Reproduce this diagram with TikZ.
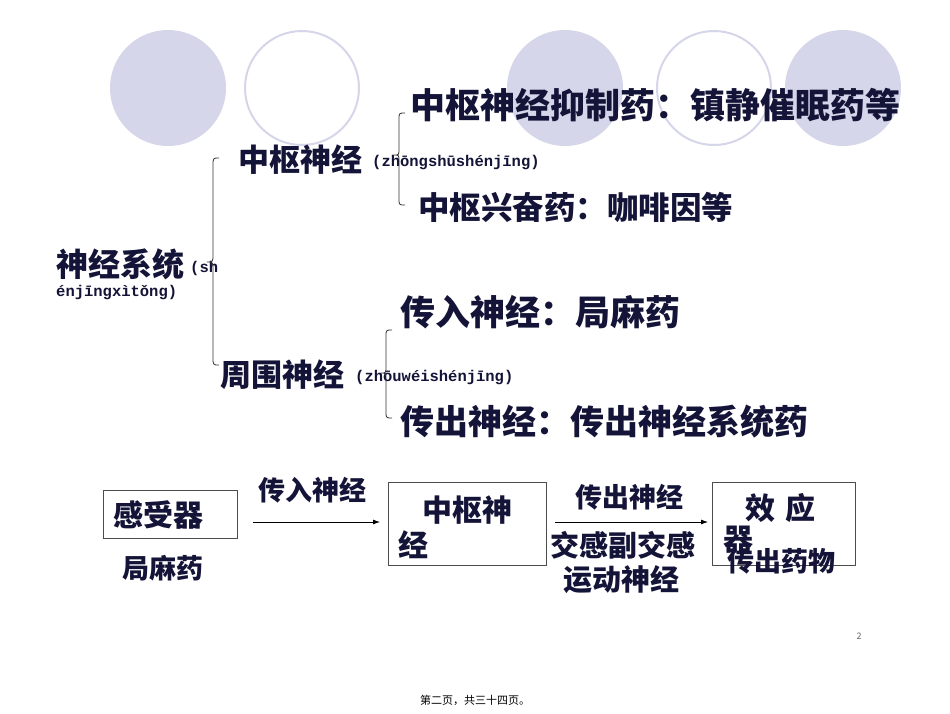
\documentclass[tikz,border=0pt]{standalone}
\usepackage{fontspec}
\setmainfont{Noto Sans CJK SC}
\newfontfamily\py{Liberation Mono}
\usetikzlibrary{arrows.meta}
\definecolor{txt}{HTML}{141438}
\definecolor{lav}{HTML}{D6D6EA}
\tikzset{
  t/.style={anchor=west,inner sep=0pt,text=txt},
  pin/.style={anchor=west,inner sep=0pt,text=txt,font=\py\bfseries\fontsize{15.5}{17}\selectfont},
  box/.style={draw=black!70,line width=0.8pt},
  arr/.style={-{Latex[length=7pt,width=5pt]},line width=0.8pt},
  br/.style={line width=0.8pt,black!80}
}
\begin{document}
\begin{tikzpicture}[x=1pt,y=-1pt]
\useasboundingbox (0,0) rectangle (950,713);
\fill[white] (0,0) rectangle (950,713);
\fill[lav] (168,88) circle (58);
\draw[lav,line width=2pt] (302,88) circle (57);
\fill[lav] (565,88) circle (58);
\draw[lav,line width=2pt] (714,88) circle (57);
\fill[lav] (843,88) circle (58);

\node[t,font=\bfseries\fontsize{35}{37}\selectfont] (a1) at (410,105) {中枢神经抑制药：镇静催眠药等};
\node[t,font=\bfseries\fontsize{31}{34}\selectfont] (c) at (238,160) {中枢神经};
\node[pin] (cp) at (372,163) {(zhōngshūshénjīng)};
\node[t,font=\bfseries\fontsize{31.5}{34}\selectfont] (a2) at (418,207) {中枢兴奋药：咖啡因等};
\node[t,font=\bfseries\fontsize{32}{34}\selectfont] (s) at (56,264) {神经系统};
\node[pin] (sp1) at (190,268) {(sh};
\node[pin] (sp2) at (56,293) {énjīngxìtǒng)};
\node[t,font=\bfseries\fontsize{35}{37}\selectfont] (b1) at (400,312) {传入神经：局麻药};
\node[t,font=\bfseries\fontsize{31}{34}\selectfont] (p) at (220,375) {周围神经};
\node[pin] (pp) at (355,378) {(zhōuwéishénjīng)};
\node[t,font=\bfseries\fontsize{34}{36}\selectfont] (b2) at (400,422) {传出神经：传出神经系统药};

% braces
\draw[br] (219,158) .. controls (213,158) .. (213,166) -- (213,254) .. controls (213,262) .. (207,262) .. controls (213,262) .. (213,270) -- (213,357) .. controls (213,365) .. (219,365);
\draw[br] (405,113) .. controls (399,113) .. (399,120) -- (399,148) .. controls (399,155) .. (394,155) .. controls (399,155) .. (399,162) -- (399,198) .. controls (399,205) .. (405,205);
\draw[br] (392,330) .. controls (386,330) .. (386,337) -- (386,366) .. controls (386,373) .. (381,373) .. controls (386,373) .. (386,380) -- (386,411) .. controls (386,418) .. (392,418);

% bottom flow
\node[box,minimum width=134pt,minimum height=48pt,inner sep=0pt] (k) at (170,514) {};
\node[t,font=\bfseries\fontsize{30}{32}\selectfont] (kt) at (113,515) {感受器};
\node[t,font=\bfseries\fontsize{27}{30}\selectfont] (kd) at (122,568) {局麻药};
\node[box,minimum width=158pt,minimum height=83pt,inner sep=0pt] (z) at (467,523.5) {};
\node[t,font=\bfseries\fontsize{30}{32}\selectfont] (zt1) at (422,510) {中枢神};
\node[t,font=\bfseries\fontsize{30}{32}\selectfont] (zt2) at (398,545) {经};
\node[box,minimum width=143pt,minimum height=83pt,inner sep=0pt] (e) at (783.5,523.5) {};
\node[t,font=\bfseries\fontsize{30}{32}\selectfont] (et1) at (745,508) {效\hspace{10pt}应};
\node[t,font=\bfseries\fontsize{30}{32}\selectfont] (et2) at (723,540) {器};
\node[t,font=\bfseries\fontsize{27}{30}\selectfont] (ed) at (727,561) {传出药物};

\coordinate (a1s) at (253,522);
\coordinate (a1e) at (380,522);
\coordinate (a2s) at (555,522);
\coordinate (a2e) at (708,522);
\draw[arr] (a1s) -- (a1e);
\draw[arr] (a2s) -- (a2e);
\node[t,font=\bfseries\fontsize{27}{29}\selectfont] (l1) at (258,490) {传入神经};
\node[t,font=\bfseries\fontsize{27}{29}\selectfont] (l2) at (575,497) {传出神经};
\node[t,font=\bfseries\fontsize{29}{31}\selectfont] (l3) at (550,545) {交感副交感};
\node[t,font=\bfseries\fontsize{29}{31}\selectfont] (l4) at (563,580) {运动神经};

\node[anchor=center,inner sep=0pt,text=black!60,font=\fontsize{9}{10}\selectfont] (pg) at (859,636) {2};
\node[anchor=center,inner sep=0pt,text=black,font=\fontsize{11}{12}\selectfont] (ft) at (475,700) {第二页，共三十四页。};
\end{tikzpicture}
\end{document}
